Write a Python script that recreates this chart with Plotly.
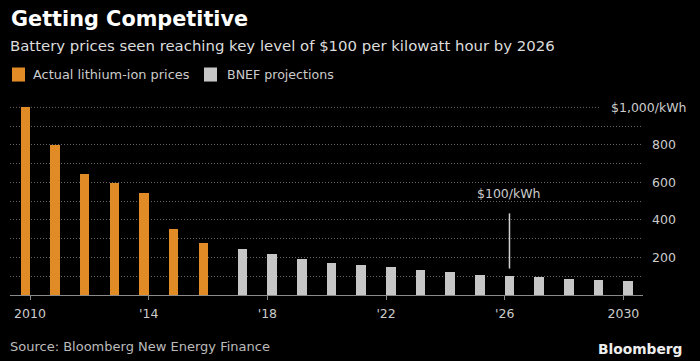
import plotly.graph_objects as go

years = list(range(2010, 2031))
actual = [1000, 800, 645, 598, 543, 353, 276] + [None] * 14
projected = [None] * 7 + [246, 219, 193, 172, 158, 147, 133, 122, 109, 100, 95, 84, 79, 74]
grid_vals = [100, 200, 300, 400, 500, 600, 700, 800, 900]
grid_text = ["", "200", "", "400", "", "600", "", "800", ""]
xtick_vals = [2010, 2014, 2018, 2022, 2026, 2030]
xtick_text = ["2010", "'14", "'18", "'22", "'26", "2030"]
top_label = "$1,000/kWh"
top_value = 1000
marker_year = 2026
marker_label = "$100/kWh"

ORANGE = "#e08b25"
GREY = "#c6c6c6"
GRID = "#666666"
FONT = "DejaVu Sans"

# plot-area geometry (pixels) for converting text positions
L, R, T, B = 10, 643, 98.4, 294.7
def px(x):
    return (x - L) / (R - L)
def py(y):
    return (B - y) / (B - T)

fig = go.Figure()
fig.add_bar(x=years, y=actual, width=0.32, offset=-0.32, marker_color=ORANGE,
            marker_line_width=0, name="Actual lithium-ion prices", showlegend=False)
fig.add_bar(x=years, y=projected, width=0.32, offset=0.0, marker_color=GREY,
            marker_line_width=0, name="BNEF projections", showlegend=False)

shapes = []
shapes.append(dict(type="line", xref="paper", yref="y", x0=0, x1=px(600),
                   y0=top_value, y1=top_value, line=dict(color=GRID, width=1, dash="1px,2px"),
                   layer="below"))
shapes.append(dict(type="line", xref="x", yref="y", x0=marker_year + 0.16, x1=marker_year + 0.16,
                   y0=141, y1=435, line=dict(color="#d0d0d0", width=1.5)))
shapes.append(dict(type="rect", xref="paper", yref="paper", x0=px(12), x1=px(25),
                   y0=py(82), y1=py(68), fillcolor=ORANGE, line=dict(width=0)))
shapes.append(dict(type="rect", xref="paper", yref="paper", x0=px(204), x1=px(217),
                   y0=py(82), y1=py(68), fillcolor=GREY, line=dict(width=0)))

ann = []
ann.append(dict(text="<b>Getting Competitive</b>", xref="paper", yref="paper", x=px(9), y=py(20),
                xanchor="left", yanchor="middle", showarrow=False,
                font=dict(family=FONT, size=20.8, color="#ffffff")))
ann.append(dict(text="Battery prices seen reaching key level of $100 per kilowatt hour by 2026",
                xref="paper", yref="paper", x=px(8), y=py(46.5), xanchor="left", yanchor="middle",
                showarrow=False, font=dict(family=FONT, size=14.9, color="#dddddd")))
ann.append(dict(text="Actual lithium-ion prices", xref="paper", yref="paper", x=px(31), y=py(75),
                xanchor="left", yanchor="middle", showarrow=False,
                font=dict(family=FONT, size=12.9, color="#cccccc")))
ann.append(dict(text="BNEF projections", xref="paper", yref="paper", x=px(225), y=py(75),
                xanchor="left", yanchor="middle", showarrow=False,
                font=dict(family=FONT, size=12.6, color="#cccccc")))
ann.append(dict(text=top_label, xref="paper", yref="y", x=px(609), y=top_value,
                xanchor="left", yanchor="middle", showarrow=False,
                font=dict(family=FONT, size=12.5, color="#cccccc")))
ann.append(dict(text=marker_label, xref="x", yref="paper", x=marker_year + 0.16, y=py(194),
                xanchor="center", yanchor="middle", showarrow=False,
                font=dict(family=FONT, size=12.5, color="#cccccc")))
ann.append(dict(text="Source: Bloomberg New Energy Finance", xref="paper", yref="paper",
                x=px(8), y=py(346.5), xanchor="left", yanchor="middle", showarrow=False,
                font=dict(family=FONT, size=13, color="#bbbbbb")))
ann.append(dict(text="<b>Bloomberg</b>", xref="paper", yref="paper", x=px(685), y=py(349),
                xanchor="right", yanchor="middle", showarrow=False,
                font=dict(family=FONT, size=13.8, color="#eeeeee")))

fig.update_layout(
    template="none",
    width=700, height=361,
    margin=dict(l=L, r=700 - R, t=T, b=361 - B, autoexpand=False),
    paper_bgcolor="#000000", plot_bgcolor="#000000",
    barmode="overlay", bargap=0,
    shapes=shapes, annotations=ann,
    font=dict(family=FONT, color="#cccccc"),
    xaxis=dict(range=[2009.326, 2030.66], tickvals=xtick_vals, ticktext=xtick_text,
               showgrid=False, zeroline=False, showline=True, linecolor="#8a8a8a", linewidth=1,
               ticks="outside", ticklen=4, tickcolor="#8a8a8a", tickwidth=1, automargin=False,
               ticklabelstandoff=3,
               tickfont=dict(family=FONT, size=12.5, color="#cccccc")),
    yaxis=dict(range=[0, 1050], side="right", tickvals=grid_vals, ticktext=grid_text,
               showgrid=True, gridcolor=GRID, griddash="1px,2px", gridwidth=1, automargin=False,
               zeroline=False, showline=False, ticks="", ticklabelstandoff=8,
               tickfont=dict(family=FONT, size=12.5, color="#cccccc")),
)

fig.write_html("out.html", config={"displayModeBar": False},
               post_script="document.body.style.margin='0';document.body.style.background='#000';")
